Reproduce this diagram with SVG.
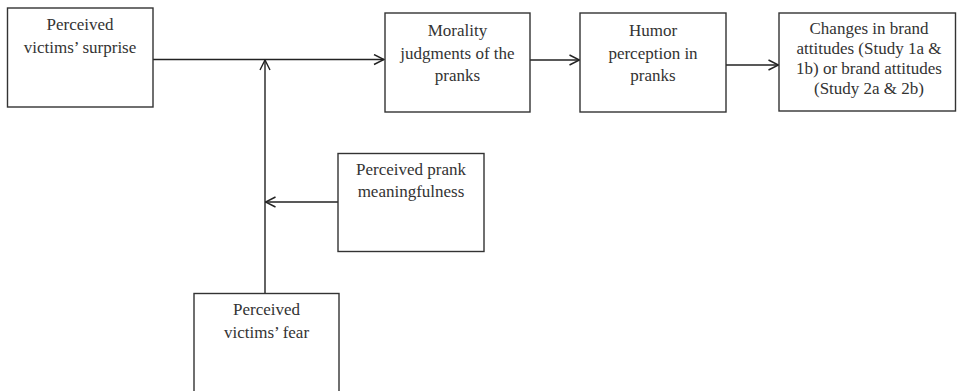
<svg xmlns="http://www.w3.org/2000/svg" width="957" height="391" viewBox="0 0 957 391">
<style>
.box{fill:#fff;stroke:#333;stroke-width:1.4}
.t{font-family:"Liberation Serif","Times New Roman",serif;font-size:17px;fill:#333;text-anchor:middle}
.c{fill:none;stroke:#222;stroke-width:1.4}
</style>
<defs>
<marker id="ah" markerUnits="userSpaceOnUse" markerWidth="12" markerHeight="12" refX="10" refY="5" orient="auto" viewBox="-1 -1 12 12">
<path d="M0,0 L10,5 L0,10" fill="none" stroke="#222" stroke-width="1.4"/>
</marker>
</defs>
<rect width="957" height="391" fill="#fff"/>
<g id="connectors">
<line class="c" x1="153" y1="59.5" x2="384" y2="59.5" marker-end="url(#ah)"/>
<line class="c" x1="265" y1="293" x2="265" y2="60" marker-end="url(#ah)"/>
<line class="c" x1="338" y1="202" x2="265.5" y2="202" marker-end="url(#ah)"/>
<line class="c" x1="530" y1="60" x2="579.5" y2="60" marker-end="url(#ah)"/>
<line class="c" x1="726" y1="65" x2="778.5" y2="65" marker-end="url(#ah)"/>
</g>
<g id="surprise">
<rect class="box" x="7.5" y="8" width="145.5" height="99"/>
<text class="t" x="80" y="30">Perceived</text>
<text class="t" x="80" y="53">victims’ surprise</text>
</g>
<g id="morality">
<rect class="box" x="385" y="13" width="145" height="99"/>
<text class="t" x="457.5" y="36">Morality</text>
<text class="t" x="457.5" y="58.5">judgments of the</text>
<text class="t" x="457.5" y="81">pranks</text>
</g>
<g id="humor">
<rect class="box" x="580" y="13" width="146" height="99"/>
<text class="t" x="653" y="36">Humor</text>
<text class="t" x="653" y="58.5">perception in</text>
<text class="t" x="653" y="81">pranks</text>
</g>
<g id="changes">
<rect class="box" x="779" y="13" width="176.5" height="98"/>
<text class="t" x="869" y="34">Changes in brand</text>
<text class="t" x="869" y="54">attitudes (Study 1a &amp;</text>
<text class="t" x="869" y="74">1b) or brand attitudes</text>
<text class="t" x="869" y="94">(Study 2a &amp; 2b)</text>
</g>
<g id="meaningfulness">
<rect class="box" x="338" y="153.5" width="146" height="98"/>
<text class="t" x="411" y="175">Perceived prank</text>
<text class="t" x="411" y="197">meaningfulness</text>
</g>
<g id="fear">
<rect class="box" x="194" y="293.5" width="145" height="110"/>
<text class="t" x="266.5" y="315">Perceived</text>
<text class="t" x="266.5" y="338">victims’ fear</text>
</g>
</svg>
